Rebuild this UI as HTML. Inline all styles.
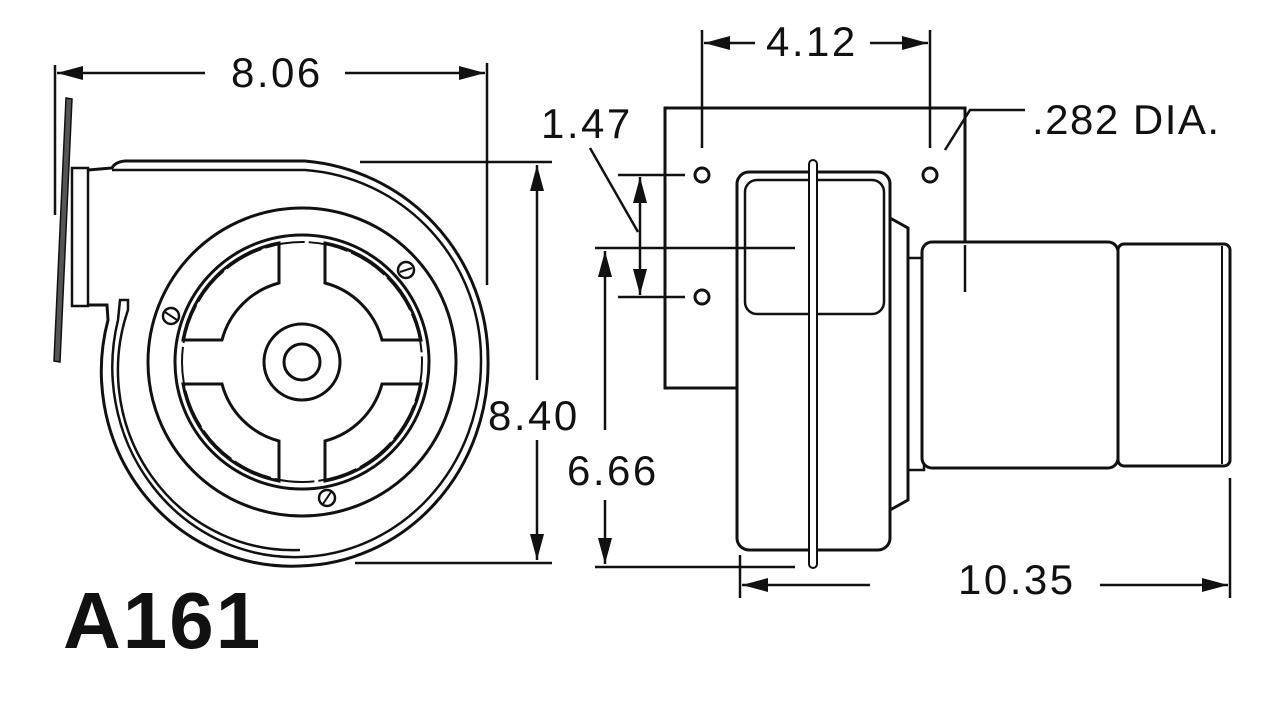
<!DOCTYPE html>
<html><head><meta charset="utf-8"><style>
html,body{margin:0;padding:0;background:#fff;}
svg{display:block;}
text{font-family:"Liberation Sans",Arial,sans-serif;fill:#111;}
</style></head><body>
<svg width="1280" height="710" viewBox="0 0 1280 710" xmlns="http://www.w3.org/2000/svg">
<defs>
<marker id="a" viewBox="0 0 26 14" refX="26" refY="7" markerWidth="26" markerHeight="14" markerUnits="userSpaceOnUse" orient="auto"><path d="M0,0 L26,7 L0,14 Z" fill="#111"/></marker>
</defs>
<g fill="none" stroke="#111" stroke-width="2.5">
<!-- dimension 8.06 -->
<line x1="55" y1="65" x2="55" y2="215"/>
<line x1="487" y1="63" x2="487" y2="285"/>
<line x1="205" y1="73" x2="57" y2="73" marker-end="url(#a)"/>
<line x1="345" y1="73" x2="485" y2="73" marker-end="url(#a)"/>
<!-- 8.40 -->
<line x1="360" y1="162" x2="552" y2="162"/>
<line x1="355" y1="563" x2="552" y2="563"/>
<line x1="537" y1="380" x2="537" y2="165" marker-end="url(#a)"/>
<line x1="537" y1="440" x2="537" y2="560" marker-end="url(#a)"/>
<!-- 6.66 -->
<line x1="595" y1="248" x2="795" y2="248"/>
<line x1="595" y1="567" x2="795" y2="567"/>
<line x1="605" y1="430" x2="605" y2="251" marker-end="url(#a)"/>
<line x1="605" y1="500" x2="605" y2="564" marker-end="url(#a)"/>
<!-- 1.47 -->
<line x1="618" y1="175" x2="685" y2="175"/>
<line x1="618" y1="297" x2="685" y2="297"/>
<line x1="640" y1="236" x2="640" y2="177" marker-end="url(#a)"/>
<line x1="640" y1="236" x2="640" y2="295" marker-end="url(#a)"/>
<line x1="590" y1="148" x2="638" y2="232"/>
<!-- 4.12 -->
<line x1="702" y1="30" x2="702" y2="148"/>
<line x1="930" y1="30" x2="930" y2="148"/>
<line x1="755" y1="43" x2="704" y2="43" marker-end="url(#a)"/>
<line x1="870" y1="43" x2="928" y2="43" marker-end="url(#a)"/>
<!-- .282 leader -->
<polyline points="945,150 970,110 1025,110"/>
<!-- 10.35 -->
<line x1="740" y1="555" x2="740" y2="598"/>
<line x1="1230" y1="478" x2="1230" y2="598"/>
<line x1="870" y1="585" x2="742" y2="585" marker-end="url(#a)"/>
<line x1="1100" y1="585" x2="1228" y2="585" marker-end="url(#a)"/>
</g>
<!-- LEFT VIEW -->
<g fill="none" stroke="#111" stroke-width="3">
<polygon points="66,98 72,99 60,362 54,361" fill="#555" stroke-width="1.5"/>
<rect x="72" y="168" width="16" height="138" stroke-width="2.5"/>
<path d="M88,170 L112,168 Q115,162 125,161 L305,161 A200,200 0 0 1 488,360 A192,202 0 0 1 300,566 A190,195 0 0 1 108,320 L107,305 L88,305"/>
<path d="M112,170 L305,170 A190,190 0 0 1 481,362 A185,195 0 0 1 300,557 A182,190 0 0 1 118,320 L120,300 L128,300 L128,310 A175,180 0 0 0 300,550" stroke-width="2.5"/>
<circle cx="302" cy="362" r="154" stroke-width="3"/>
<circle cx="302" cy="362" r="127" stroke-width="3"/>
<circle cx="302" cy="362" r="120" stroke-width="2" stroke-dasharray="40,4"/>
<circle cx="302" cy="362" r="38" stroke-width="3"/>
<circle cx="302" cy="362" r="18" stroke-width="3"/>
<!-- windows -->
<path d="M279,243 L279,283 A80,80 0 0 0 222,340 L183,340 A120,120 0 0 1 279,243 Z"/>
<path d="M325,243 L325,283 A80,80 0 0 1 382,340 L421,340 A120,120 0 0 0 325,243 Z"/>
<path d="M279,481 L279,441 A80,80 0 0 1 222,384 L183,384 A120,120 0 0 0 279,481 Z"/>
<path d="M325,481 L325,441 A80,80 0 0 0 382,384 L421,384 A120,120 0 0 1 325,481 Z"/>
<circle cx="406" cy="270" r="8" stroke-width="2.5"/><line x1="400" y1="272" x2="412" y2="268" stroke-width="2"/>
<circle cx="171" cy="316" r="8" stroke-width="2.5"/><line x1="165" y1="312" x2="177" y2="320" stroke-width="2"/>
<circle cx="327" cy="498" r="8" stroke-width="2.5"/><line x1="323" y1="504" x2="331" y2="492" stroke-width="2"/>
</g>
<!-- RIGHT VIEW -->
<g fill="none" stroke="#111" stroke-width="3">
<polyline points="737,388 665,388 665,108 965,108 965,292"/>
<circle cx="702" cy="175" r="7"/><circle cx="930" cy="175" r="7"/><circle cx="702" cy="297" r="7"/>
<rect x="737" y="172" width="153" height="378" rx="12"/>
<rect x="745" y="180" width="139" height="134" rx="12" stroke-width="2.5"/>
<rect x="809" y="160" width="8" height="408" rx="4" fill="#fff" stroke-width="2"/>
<polyline points="890,218 908,228 908,500 890,510"/>
<rect x="908" y="258" width="16" height="212" stroke-width="2.5"/>
<rect x="922" y="242" width="196" height="226" rx="10" fill="#fff"/>
<rect x="1118" y="244" width="112" height="222" rx="6" fill="#fff"/>
<line x1="1222" y1="246" x2="1222" y2="464" stroke-width="2"/>
<line x1="965" y1="245" x2="965" y2="292" stroke-width="2.5"/>
</g>
<g font-size="42" letter-spacing="2.5">
<text x="231" y="87">8.06</text>
<text x="488" y="430">8.40</text>
<text x="567" y="485">6.66</text>
<text x="541" y="138">1.47</text>
<text x="766" y="56">4.12</text>
<text x="1032" y="134" letter-spacing="1.5">.282 DIA.</text>
<text x="958" y="594">10.35</text>
</g>
<text x="63" y="648" font-size="80" font-weight="bold" letter-spacing="2">A161</text>
</svg>
</body></html>
